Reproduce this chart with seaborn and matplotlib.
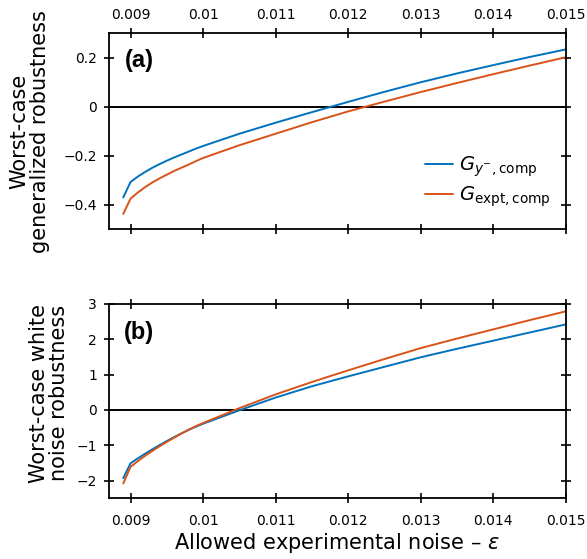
import matplotlib
matplotlib.use("Agg")
import matplotlib.pyplot as plt
import seaborn as sns
import pandas as pd

# ---------------- data ----------------
eps_a = [0.0089, 0.0090, 0.0091, 0.0092, 0.0093, 0.0094, 0.0095, 0.0096, 0.0097, 0.0098, 0.0099,
         0.0100, 0.0105, 0.0110, 0.0115, 0.0120, 0.0125, 0.0130, 0.0135, 0.0140, 0.0145, 0.0150]
gen_yminus = [-0.370, -0.307, -0.285, -0.266, -0.249, -0.234, -0.220, -0.207, -0.195, -0.183, -0.171,
              -0.160, -0.110, -0.065, -0.022, 0.020, 0.061, 0.100, 0.136, 0.170, 0.203, 0.234]
gen_expt = [-0.437, -0.375, -0.350, -0.328, -0.309, -0.292, -0.277, -0.262, -0.249, -0.236, -0.222,
            -0.209, -0.157, -0.110, -0.063, -0.019, 0.021, 0.060, 0.097, 0.133, 0.168, 0.202]

eps_b = [0.0089, 0.0090, 0.0091, 0.0092, 0.0093, 0.0094, 0.0095, 0.0096, 0.0097, 0.0098, 0.0099,
         0.0100, 0.0105, 0.0110, 0.0115, 0.0120, 0.0125, 0.0130, 0.0135, 0.0140, 0.0145, 0.0150]
wn_yminus = [-1.93, -1.51, -1.37, -1.24, -1.115, -0.995, -0.88, -0.77, -0.665, -0.565, -0.475,
             -0.39, -0.01, 0.35, 0.67, 0.95, 1.22, 1.49, 1.73, 1.96, 2.19, 2.42]
wn_expt = [-2.08, -1.61, -1.45, -1.30, -1.16, -1.03, -0.905, -0.785, -0.67, -0.56, -0.46,
           -0.37, 0.05, 0.44, 0.79, 1.12, 1.44, 1.75, 2.02, 2.28, 2.54, 2.79]

x_ticks = [0.009, 0.010, 0.011, 0.012, 0.013, 0.014, 0.015]
x_ticklabels = ["0.009", "0.01", "0.011", "0.012", "0.013", "0.014", "0.015"]
ya_ticks = [-0.4, -0.2, 0, 0.2]
ya_ticklabels = ["\u22120.4", "\u22120.2", "0", "0.2"]
yb_ticks = [-2, -1, 0, 1, 2, 3]
yb_ticklabels = ["\u22122", "\u22121", "0", "1", "2", "3"]

label_a = r"$G_{y^{-},\mathrm{comp}}$"
label_b = r"$G_{\mathrm{expt,comp}}$"

BLUE = "#0072BD"
ORANGE = "#D95319"

sns.set_style("ticks")
plt.rcParams["font.family"] = ["DejaVu Sans"]
plt.rcParams["mathtext.fontset"] = "dejavusans"
plt.rcParams["text.color"] = "black"
plt.rcParams["axes.labelcolor"] = "black"
plt.rcParams["xtick.color"] = "black"
plt.rcParams["ytick.color"] = "black"

fig = plt.figure(figsize=(5.87, 5.59), dpi=100)
ax1 = fig.add_axes([0.1853, 0.5898, 0.9634 - 0.1853, 0.9404 - 0.5898])
ax2 = fig.add_axes([0.1853, 0.1086, 0.9634 - 0.1853, 0.4562 - 0.1086])

df_a = pd.DataFrame({"eps": eps_a, "yminus": gen_yminus, "expt": gen_expt})
df_b = pd.DataFrame({"eps": eps_b, "yminus": wn_yminus, "expt": wn_expt})

sns.lineplot(data=df_a, x="eps", y="yminus", ax=ax1, color=BLUE, lw=1.4, label=label_a)
sns.lineplot(data=df_a, x="eps", y="expt", ax=ax1, color=ORANGE, lw=1.4, label=label_b)
sns.lineplot(data=df_b, x="eps", y="yminus", ax=ax2, color=BLUE, lw=1.4, legend=False)
sns.lineplot(data=df_b, x="eps", y="expt", ax=ax2, color=ORANGE, lw=1.4, legend=False)

for ax in (ax1, ax2):
    ax.axhline(0, color="black", lw=1.4, zorder=1)
    ax.set_xlim(0.0087, 0.015)
    ax.set_xticks(x_ticks)
    ax.set_xticklabels(x_ticklabels)
    for s in ax.spines.values():
        s.set_visible(True)
        s.set_linewidth(1.3)
        s.set_color("black")
    ax.tick_params(direction="inout", length=7, width=1.2, colors="black",
                   labelsize=10, top=True, right=True, bottom=True, left=True)
    ax.tick_params(axis="y", pad=5)

ax1.set_ylim(-0.5, 0.3)
ax1.set_yticks(ya_ticks)
ax1.set_yticklabels(ya_ticklabels)
ax1.tick_params(axis="x", labeltop=True, labelbottom=False, pad=5)
ax1.set_xlabel("")
ax1.set_ylabel("Worst-case\ngeneralized robustness", fontsize=15, linespacing=1.05)
ax1.yaxis.set_label_coords(-0.129, 0.5)
ax1.text(0.066, 0.86, "(a)", transform=ax1.transAxes, fontsize=17, fontweight="bold",
         family="Liberation Sans", ha="center", va="center")

ax2.set_ylim(-2.5, 3)
ax2.set_yticks(yb_ticks)
ax2.set_yticklabels(yb_ticklabels)
ax2.tick_params(axis="x", labeltop=False, labelbottom=True, pad=8)
ax2.set_xlabel(r"Allowed experimental noise – $\varepsilon$", fontsize=15, labelpad=2)
ax2.set_ylabel("Worst-case white\nnoise robustness", fontsize=15, linespacing=1.05)
ax2.yaxis.set_label_coords(-0.086, 0.54)
ax2.text(0.066, 0.853, "(b)", transform=ax2.transAxes, fontsize=17, fontweight="bold",
         family="Liberation Sans", ha="center", va="center")

leg = ax1.legend(loc="upper left", bbox_to_anchor=(0.693, 0.38), frameon=False,
                 fontsize=14, handlelength=1.45, handletextpad=0.3, labelspacing=0.25,
                 borderaxespad=0, borderpad=0)

fig.savefig("out.png", dpi=100)
